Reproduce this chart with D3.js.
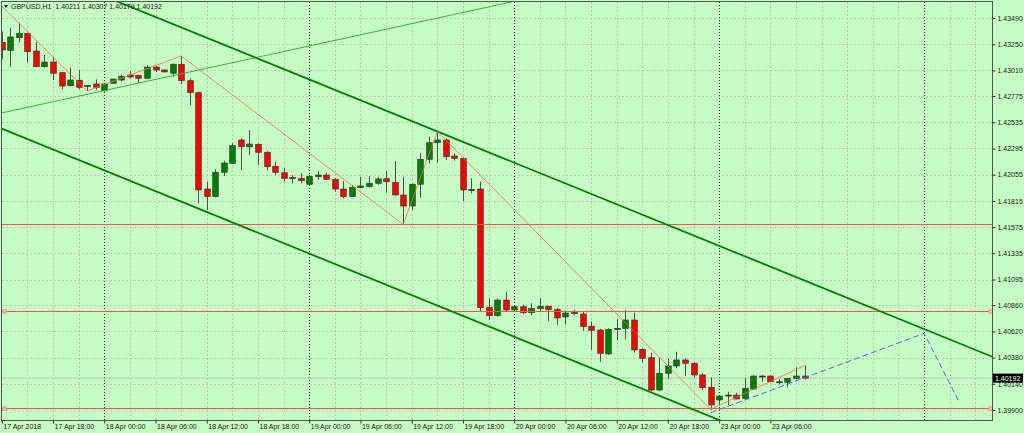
<!DOCTYPE html>
<html>
<head>
<meta charset="utf-8">
<script src="https://cdn.jsdelivr.net/npm/d3@7/dist/d3.min.js"></script>
<style>
body { margin: 0; background: #c6fdc4; }
svg { display: block; font-family: "Liberation Sans", Arial, sans-serif; }
</style>
</head>
<body>
<svg id="chart" width="1024" height="433"></svg>
<script>
// GBPUSD H1, bars from 17 Apr 12:00 to 23 Apr 10:00
var symbol = "GBPUSD,H1";

var open = [
  1.43268,1.43191,1.43310,1.43350,1.43188,1.43044,1.43087,1.42989,1.42870,1.42920,
  1.42861,1.42886,1.42824,1.42892,1.42922,1.42968,1.42965,1.42938,1.43041,1.43014,
  1.42984,1.43066,1.42916,1.42806,1.41924,1.41854,1.42077,1.42159,1.42373,1.42311,
  1.42333,1.42260,1.42132,1.42073,1.42028,1.42022,1.41967,1.42037,1.42052,1.42013,
  1.41924,1.41854,1.41936,1.41945,1.41976,1.42018,1.41985,1.41869,1.41768,1.41967,
  1.42196,1.42348,1.42373,1.42226,1.42205,1.41919,1.41924,1.40841,1.40764,1.40907,
  1.40816,1.40846,1.40791,1.40828,1.40850,1.40819,1.40752,1.40795,1.40779,1.40667,
  1.40633,1.40413,1.40644,1.40648,1.40724,1.40456,1.40379,1.40083,1.40236,1.40303,
  1.40358,1.40328,1.40221,1.40108,1.39992,1.40033,1.40037,1.40007,1.40092,1.40211,
  1.40211,1.40159,1.40154,1.40190,1.40211];
var high = [
  1.43365,1.43399,1.43447,1.43353,1.43273,1.43151,1.43136,1.42992,1.43035,1.43014,
  1.42876,1.42929,1.42898,1.42931,1.42971,1.43005,1.42968,1.43057,1.43053,1.43016,
  1.43075,1.43142,1.42938,1.42815,1.41991,1.42104,1.42183,1.42343,1.42388,1.42464,
  1.42343,1.42272,1.42174,1.42114,1.42052,1.42068,1.42052,1.42089,1.42073,1.42022,
  1.41997,1.41961,1.42037,1.42043,1.42037,1.42089,1.42180,1.42037,1.41976,1.42251,
  1.42403,1.42451,1.42388,1.42251,1.42214,1.42022,1.41991,1.40923,1.40923,1.40983,
  1.40862,1.40862,1.40877,1.40926,1.40852,1.40834,1.40804,1.40819,1.40804,1.40711,
  1.40642,1.40648,1.40731,1.40816,1.40791,1.40468,1.40425,1.40373,1.40373,1.40434,
  1.40373,1.40342,1.40236,1.40199,1.40037,1.40068,1.40058,1.40196,1.40221,1.40221,
  1.40216,1.40181,1.40193,1.40291,1.40307];
var low = [
  1.43112,1.43044,1.43268,1.43081,1.43041,1.43037,1.42922,1.42837,1.42863,1.42837,
  1.42822,1.42831,1.42815,1.42888,1.42907,1.42938,1.42898,1.42935,1.42996,1.42993,
  1.42953,1.42883,1.42691,1.41793,1.41732,1.41846,1.42043,1.42153,1.42098,1.42235,
  1.42144,1.42092,1.42052,1.41991,1.41976,1.41976,1.41961,1.42006,1.42006,1.41899,
  1.41839,1.41851,1.41930,1.41936,1.41961,1.41890,1.41865,1.41600,1.41732,1.41844,
  1.42159,1.42165,1.42190,1.42183,1.41814,1.41885,1.40800,1.40724,1.40755,1.40800,
  1.40798,1.40779,1.40770,1.40804,1.40712,1.40681,1.40681,1.40767,1.40626,1.40450,
  1.40342,1.40404,1.40541,1.40547,1.40425,1.40333,1.40074,1.40074,1.40181,1.40282,
  1.40211,1.40196,1.40083,1.39906,1.39946,1.39946,1.39998,1.39992,1.40083,1.40159,
  1.40156,1.40135,1.40108,1.40181,1.40179];
var close = [
  1.43197,1.43316,1.43350,1.43181,1.43044,1.43087,1.42984,1.42867,1.42922,1.42855,
  1.42872,1.42855,1.42886,1.42931,1.42956,1.42950,1.42938,1.43041,1.43014,1.42996,
  1.43066,1.42916,1.42806,1.41915,1.41854,1.42077,1.42162,1.42321,1.42311,1.42336,
  1.42260,1.42128,1.42077,1.42022,1.42025,1.42000,1.42040,1.42052,1.42013,1.41924,
  1.41854,1.41940,1.41952,1.41976,1.42016,1.41991,1.41869,1.41768,1.41967,1.42196,
  1.42348,1.42373,1.42220,1.42205,1.41915,1.41912,1.40837,1.40764,1.40907,1.40816,
  1.40846,1.40791,1.40831,1.40850,1.40819,1.40743,1.40788,1.40782,1.40663,1.40630,
  1.40419,1.40639,1.40648,1.40724,1.40450,1.40373,1.40083,1.40236,1.40303,1.40358,
  1.40328,1.40221,1.40104,1.39946,1.40028,1.40037,1.40001,1.40099,1.40211,1.40207,
  1.40159,1.40156,1.40190,1.40211,1.40192];

var yTicks = [1.43490,1.43250,1.43010,1.42775,1.42535,1.42295,1.42055,1.41815,
              1.41575,1.41335,1.41095,1.40860,1.40620,1.40380,1.40140,1.39900];
var xTickIdx = [0,6,12,18,24,30,36,42,48,54,60,66,72,78,84,90];
var xTickLabels = ["17 Apr 2018","17 Apr 18:00","18 Apr 00:00","18 Apr 06:00",
  "18 Apr 12:00","18 Apr 18:00","19 Apr 00:00","19 Apr 06:00","19 Apr 12:00",
  "19 Apr 18:00","20 Apr 00:00","20 Apr 06:00","20 Apr 12:00","20 Apr 18:00",
  "23 Apr 00:00","23 Apr 06:00"];
var daySeps = [12,36,60,84,108];

// objects on the chart (bar index, price)
var zigIdx = [-1,10,21,47,51,83,94];
var zigPrice = [1.43676,1.42822,1.43142,1.41600,1.42451,1.39906,1.40307];
var chanUpper = [[51,1.42451],[116,1.40387]];
var chanLower = [[0,1.42476],[83,1.39840]];
var thinLine = [[0,1.42621],[40,1.43302]];
var projIdx = [83,108,112];
var projPrice = [1.39875,1.40602,1.39990];
var levels = [1.41600,1.40807,1.39916];
var levelMarked = [false,true,true];

var svg = d3.select("#chart");
var L = 2, R = 992, T = 2, B = 420;

var x = d3.scaleLinear().domain([0,108]).range([1.8,924.1]);
var y = d3.scaleLinear().domain([1.399,1.4349]).range([410,18]);

svg.append("rect").attr("width",1024).attr("height",433).attr("fill","#c6fdc4");

svg.append("clipPath").attr("id","plot")
  .append("rect").attr("x",L).attr("y",T).attr("width",R-L).attr("height",B-T);

var plot = svg.append("g").attr("clip-path","url(#plot)");

// grid
var vgrid = d3.range(3,116,3).filter(function(i){ return daySeps.indexOf(i) < 0; });
plot.selectAll(".vg").data(vgrid).enter().append("line")
  .attr("x1",function(d){ return Math.round(x(d))+0.5; })
  .attr("x2",function(d){ return Math.round(x(d))+0.5; })
  .attr("y1",T).attr("y2",B)
  .attr("stroke","#b9c6b8").attr("stroke-dasharray","2,2");
plot.selectAll(".hg").data(yTicks).enter().append("line")
  .attr("x1",L).attr("x2",R)
  .attr("y1",function(d){ return Math.round(y(d))+0.5; })
  .attr("y2",function(d){ return Math.round(y(d))+0.5; })
  .attr("stroke","#b9c6b8").attr("stroke-dasharray","2,2");
plot.selectAll(".sep").data(daySeps).enter().append("line")
  .attr("x1",function(d){ return Math.round(x(d))+0.5; })
  .attr("x2",function(d){ return Math.round(x(d))+0.5; })
  .attr("y1",T).attr("y2",B)
  .attr("stroke","#303030").attr("stroke-dasharray","1,2");

// bid line
var last = close.length - 1;
plot.append("line")
  .attr("x1",L).attr("x2",R)
  .attr("y1",y(close[last])).attr("y2",y(close[last]))
  .attr("stroke","#c0c0c0");

// candles
var bars = d3.range(open.length);
var bw = 5.6;
plot.selectAll(".wick").data(bars).enter().append("line")
  .attr("x1",function(i){ return Math.round(x(i))+0.5; })
  .attr("x2",function(i){ return Math.round(x(i))+0.5; })
  .attr("y1",function(i){ return y(high[i]); })
  .attr("y2",function(i){ return y(low[i]); })
  .attr("stroke","#505050").attr("stroke-width",1);
plot.selectAll(".body").data(bars).enter().append("rect")
  .attr("x",function(i){ return Math.round(x(i))+0.5-bw/2; })
  .attr("width",bw)
  .attr("y",function(i){ return y(Math.max(open[i],close[i])); })
  .attr("height",function(i){ return Math.max(1,Math.abs(y(open[i])-y(close[i]))); })
  .attr("fill",function(i){
    if (Math.abs(y(open[i])-y(close[i])) < 1.2) return "#202020";
    return close[i] >= open[i] ? "#008000" : "#ff0000";
  })
  .attr("stroke","#383838").attr("stroke-width",0.7);

// horizontal levels
plot.selectAll(".lvl").data(levels).enter().append("line")
  .attr("x1",L).attr("x2",R)
  .attr("y1",function(d){ return Math.round(y(d))+0.5; })
  .attr("y2",function(d){ return Math.round(y(d))+0.5; })
  .attr("stroke","#f5584a");
levels.forEach(function(p,k){
  if (!levelMarked[k]) return;
  [L+1,R-3].forEach(function(px){
    plot.append("rect").attr("x",px).attr("y",Math.round(y(p))-1)
      .attr("width",3).attr("height",3)
      .attr("fill","#ffffff").attr("stroke","#f5584a").attr("stroke-width",0.8);
  });
});

// trend lines, extended across the chart
function extend(a, b) {
  var s = (b[1]-a[1])/(b[0]-a[0]);
  return [[-10, a[1]+s*(-10-a[0])],[130, a[1]+s*(130-a[0])]];
}
var ln = d3.line().x(function(d){ return x(d[0]); }).y(function(d){ return y(d[1]); });
plot.append("path").attr("d",ln(extend(thinLine[0],thinLine[1])))
  .attr("fill","none").attr("stroke","#3fae3f").attr("stroke-width",1);
plot.append("path").attr("d",ln(extend(chanUpper[0],chanUpper[1])))
  .attr("fill","none").attr("stroke","#008000").attr("stroke-width",1.8);
plot.append("path").attr("d",ln(extend(chanLower[0],chanLower[1])))
  .attr("fill","none").attr("stroke","#008000").attr("stroke-width",1.8);

// zigzag
plot.append("path").attr("d",ln(zigIdx.map(function(d,k){ return [d,zigPrice[k]]; })))
  .attr("fill","none").attr("stroke","#f26a4e").attr("stroke-width",0.8);

// projection
plot.append("path").attr("d",ln(projIdx.map(function(d,k){ return [d,projPrice[k]]; })))
  .attr("fill","none").attr("stroke","#4a6ee0").attr("stroke-width",1)
  .attr("stroke-dasharray","6,3");

// frame
svg.append("rect").attr("x",L-0.5).attr("y",T-0.5).attr("width",R-L+1).attr("height",B-T+1)
  .attr("fill","none").attr("stroke","#555555");

// axes
var yAxis = d3.axisRight(y).tickValues(yTicks).tickFormat(d3.format(".5f"))
  .tickSize(3).tickPadding(2);
var ga = svg.append("g").attr("transform","translate("+(R+0.5)+",0)").call(yAxis);
ga.select(".domain").remove();
ga.selectAll("line").attr("stroke","#333");
ga.selectAll("text").attr("font-size",7).attr("font-family","Liberation Sans, Arial, sans-serif")
  .attr("fill","#1a1a1a");

var xAxis = d3.axisBottom(x).tickValues(xTickIdx)
  .tickFormat(function(d,i){ return xTickLabels[i]; })
  .tickSize(3).tickPadding(1);
var gx = svg.append("g").attr("transform","translate(0,"+(B+0.5)+")").call(xAxis);
gx.select(".domain").remove();
gx.selectAll("line").attr("stroke","#333");
gx.selectAll("text").attr("text-anchor","start").attr("x",1)
  .attr("font-size",7).attr("font-family","Liberation Sans, Arial, sans-serif")
  .attr("fill","#1a1a1a");

// current price tag
var py = y(close[last]);
svg.append("rect").attr("x",R+1).attr("y",py-4.5).attr("width",30).attr("height",9)
  .attr("fill","#000");
svg.append("text").attr("x",R+3).attr("y",py+2.5).attr("font-size",7)
  .attr("fill","#fff").text(d3.format(".5f")(close[last]));

// header
svg.append("path").attr("d","M4,5 L8,5 L6,8 Z").attr("fill","#000");
svg.append("text").attr("x",11).attr("y",9).attr("font-size",7).attr("fill","#1a1a1a")
  .attr("xml:space","preserve")
  .text(symbol + "  " + d3.format(".5f")(open[last]) + " " + d3.format(".5f")(high[last]) +
        " " + d3.format(".5f")(low[last]) + " " + d3.format(".5f")(close[last]));
</script>
</body>
</html>
